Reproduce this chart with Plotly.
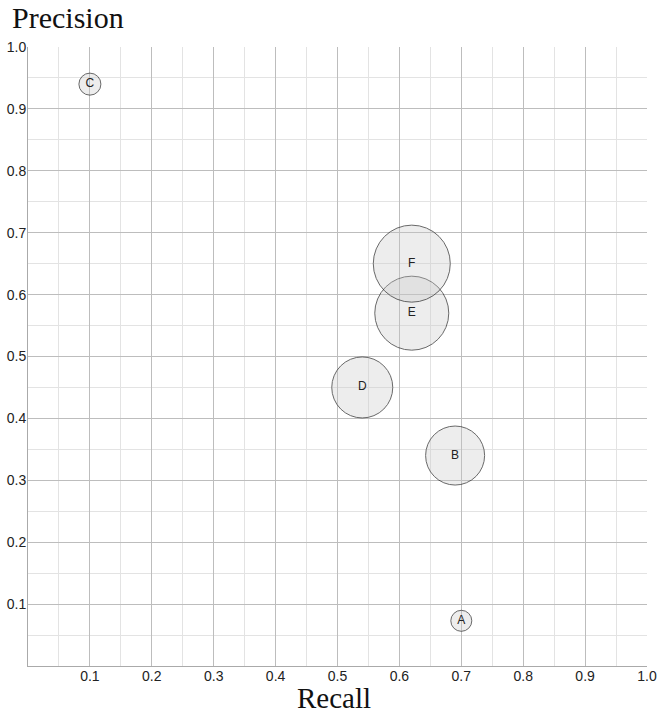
import plotly.graph_objects as go

labels = ["A", "B", "C", "D", "E", "F"]
recall = [0.70, 0.69, 0.10, 0.54, 0.62, 0.62]
precision = [0.073, 0.34, 0.94, 0.45, 0.57, 0.65]
bubble_size = [21, 59, 22, 61, 74, 77]

tick_values = [0.1, 0.2, 0.3, 0.4, 0.5, 0.6, 0.7, 0.8, 0.9, 1.0]
tick_labels = ["0.1", "0.2", "0.3", "0.4", "0.5", "0.6", "0.7", "0.8", "0.9", "1.0"]
minor_values = [0.05, 0.15, 0.25, 0.35, 0.45, 0.55, 0.65, 0.75, 0.85, 0.95]

W, H = 657, 713
ML, MR, MT, MB = 28, 10, 47, 47
PW = W - ML - MR
PH = H - MT - MB

fig = go.Figure()
fig.add_trace(go.Scatter(
    x=recall, y=precision, text=labels, mode="markers+text",
    textposition="middle center",
    textfont=dict(family="Liberation Sans", size=12, color="#222"),
    marker=dict(size=bubble_size, sizemode="diameter",
                color="rgba(200,200,200,0.45)",
                line=dict(color="#2a2a2a", width=1)),
    hoverinfo="skip", cliponaxis=False,
))

axis_common = dict(
    range=[0, 1], tickmode="array", tickvals=tick_values, ticktext=tick_labels,
    showgrid=True, gridcolor="#bdbdbd", gridwidth=1,
    showline=True, linecolor="#aaaaaa", linewidth=1,
    zeroline=False, ticks="", automargin=False,
    tickfont=dict(family="Liberation Sans", size=14, color="#222"),
    minor=dict(tickmode="array", tickvals=minor_values, showgrid=True,
               gridcolor="#e3e3e3", gridwidth=1, ticks=""),
    fixedrange=True,
)
fig.update_xaxes(**axis_common, ticklabelstandoff=-3)
fig.update_yaxes(**axis_common, ticklabelstandoff=-2)

fig.update_layout(
    width=W, height=H,
    margin=dict(l=ML, r=MR, t=MT, b=MB, pad=0),
    plot_bgcolor="white", paper_bgcolor="white",
    showlegend=False,
    hovermode=False,
    annotations=[
        dict(text="Precision", xref="paper", yref="paper",
             x=(10 - ML) / PW, y=1 + (MT - 17) / PH, xanchor="left", yanchor="middle",
             showarrow=False, font=dict(family="Liberation Serif", size=30, color="#111")),
        dict(text="Recall", xref="paper", yref="paper",
             x=(333.5 - ML) / PW, y=-(698 - (H - MB)) / PH, xanchor="center", yanchor="middle",
             showarrow=False, font=dict(family="Liberation Serif", size=29, color="#111")),
    ],
)

fig.write_html(
    "out.html",
    config={"displayModeBar": False, "staticPlot": True},
    post_script="document.body.style.margin='0';document.body.style.overflow='hidden';",
)
